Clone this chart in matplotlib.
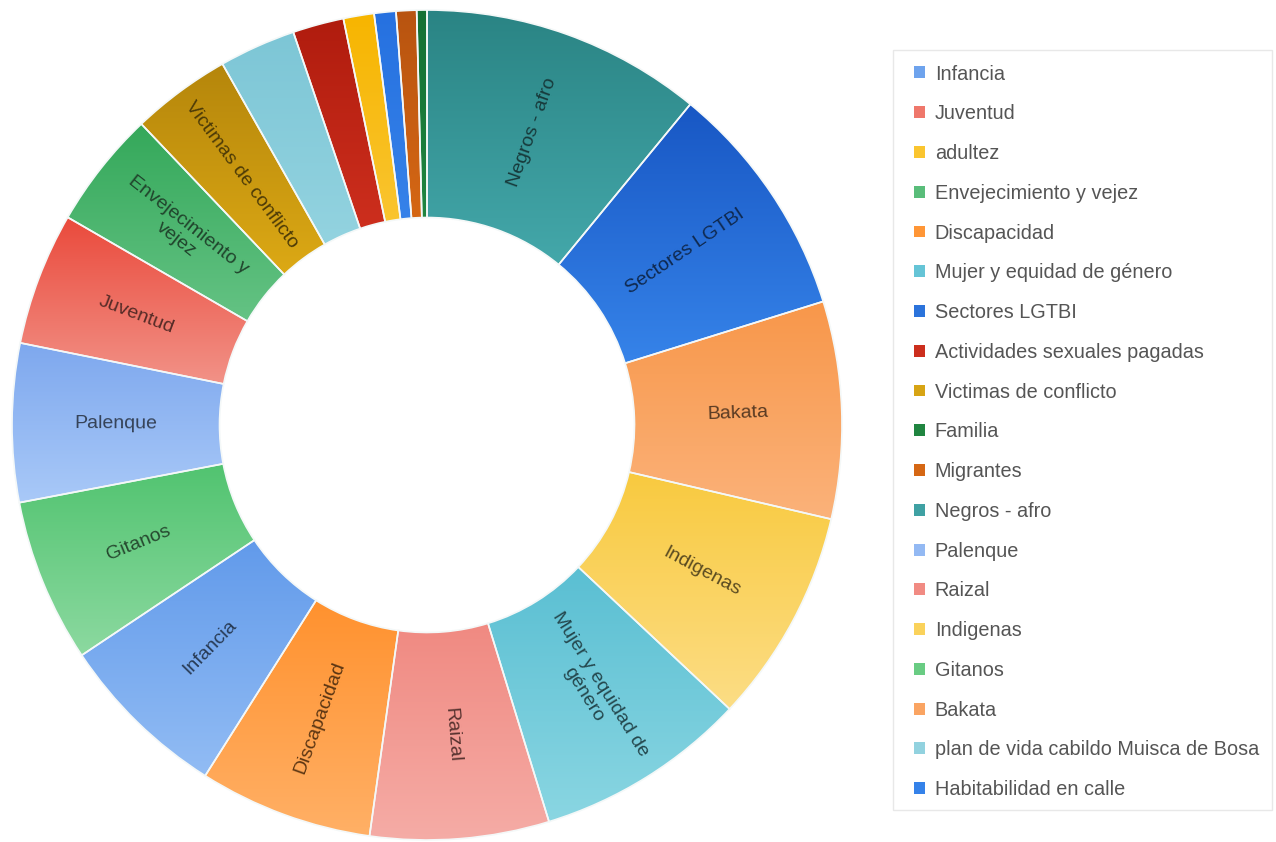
import numpy as np
import matplotlib
matplotlib.use('Agg')
import matplotlib.pyplot as plt
from matplotlib.colors import to_rgb
from matplotlib.patches import Patch, Rectangle

plt.rcParams['font.family'] = ['Liberation Sans', 'DejaVu Sans']

# datos en el orden de la leyenda
categorias = ['Infancia', 'Juventud', 'adultez', 'Envejecimiento y vejez', 'Discapacidad',
              'Mujer y equidad de género', 'Sectores LGTBI', 'Actividades sexuales pagadas',
              'Victimas de conflicto', 'Familia', 'Migrantes', 'Negros - afro', 'Palenque',
              'Raizal', 'Indigenas', 'Gitanos', 'Bakata', 'plan de vida cabildo Muisca de Bosa',
              'Habitabilidad en calle']
valores = [6.7, 5.2, 1.2, 4.6, 6.8, 8.3, 9.3, 2.0, 3.9, 0.4, 0.8, 11.0, 6.2,
           7.0, 8.4, 6.4, 8.5, 3.0, 0.85]
etiquetas = ['Infancia', 'Juventud', '', 'Envejecimiento y\nvejez', 'Discapacidad',
             'Mujer y equidad de\ngénero', 'Sectores LGTBI', '', 'Victimas de conflicto',
             '', '', 'Negros - afro', 'Palenque', 'Raizal', 'Indigenas', 'Gitanos',
             'Bakata', '', '']
color_arriba = ['#4a8ae6', '#ea4a3c', '#f7b500', '#34a85a', '#ff7b05', '#3fb2ca', '#1857c4',
                '#b01c0e', '#b5860b', '#157034', '#b85410', '#2a8484', '#7ea8ee', '#ec6a60',
                '#f8c631', '#45bf66', '#f8974a', '#7dc6d6', '#2671e0']
color_abajo = ['#92bcf4', '#f4a49a', '#fcd45e', '#7ed19a', '#ffb066', '#8ad6e2', '#3d8ef2',
               '#e8402c', '#f8c21c', '#2a9a4c', '#f27a18', '#54bec2', '#a9c9f8', '#f5aca6',
               '#fcdd85', '#8cd9a0', '#fbb27a', '#a6dee8', '#4593f2']

# las porciones van de mayor a menor
orden = np.argsort(-np.array(valores), kind='stable')

fig = plt.figure(figsize=(12.76, 8.42), dpi=100)
ax = fig.add_axes([0.0094, 0.0024, 0.6505, 0.9857])

wedges, _ = ax.pie([valores[i] for i in orden], startangle=90, counterclock=False,
                   radius=1, wedgeprops=dict(width=0.5, edgecolor='#f4f8f8', linewidth=1.2))

for w, i in zip(wedges, orden):
    c1 = np.array(to_rgb(color_arriba[i]))
    c2 = np.array(to_rgb(color_abajo[i]))
    v = w.get_path().vertices
    x0, x1 = v[:, 0].min(), v[:, 0].max()
    y0, y1 = v[:, 1].min(), v[:, 1].max()
    t = np.linspace(0, 1, 256)[:, None]
    grad = (c2 * (1 - t) + c1 * t)[:, None, :]
    im = ax.imshow(grad, extent=(x0, x1, y0, y1), origin='lower', aspect='auto',
                   zorder=2, interpolation='bilinear')
    im.set_clip_path(w)
    w.set_facecolor('none')
    w.set_zorder(3)

    if etiquetas[i]:
        mid = (w.theta1 + w.theta2) / 2
        rot = mid
        if rot > 90:
            rot -= 180
        if rot < -90:
            rot += 180
        r = 0.75
        xt = r * np.cos(np.radians(mid))
        yt = r * np.sin(np.radians(mid))
        col_txt = 0.36 * (c1 + c2) / 2
        ax.text(xt, yt, etiquetas[i], rotation=rot, rotation_mode='anchor',
                ha='center', va='center', fontsize=14, color=col_txt,
                multialignment='center', zorder=4)

ax.set_xlim(-1.0, 1.0)
ax.set_ylim(-1.0, 1.0)
ax.set_aspect('equal')
ax.axis('off')

# marco de la leyenda
W, H = 1276, 842
fig.patches.append(Rectangle((893 / W, 1 - 810 / H), 379 / W, 760 / H, transform=fig.transFigure,
                             facecolor='white', edgecolor='#e8e8e8', linewidth=1, zorder=0))

handles = [Patch(facecolor=(np.array(to_rgb(a)) + np.array(to_rgb(b))) / 2)
           for a, b in zip(color_arriba, color_abajo)]
leg = fig.legend(handles, categorias, loc='upper left',
                 bbox_to_anchor=(914 / W, 1 - 64.5 / H),
                 fontsize=14.3, frameon=False,
                 handlelength=0.55, handleheight=0.55, handletextpad=0.5,
                 labelspacing=1.045, borderpad=0, borderaxespad=0)
for txt in leg.get_texts():
    txt.set_color('#555555')

fig.savefig('out.png', dpi=100)
